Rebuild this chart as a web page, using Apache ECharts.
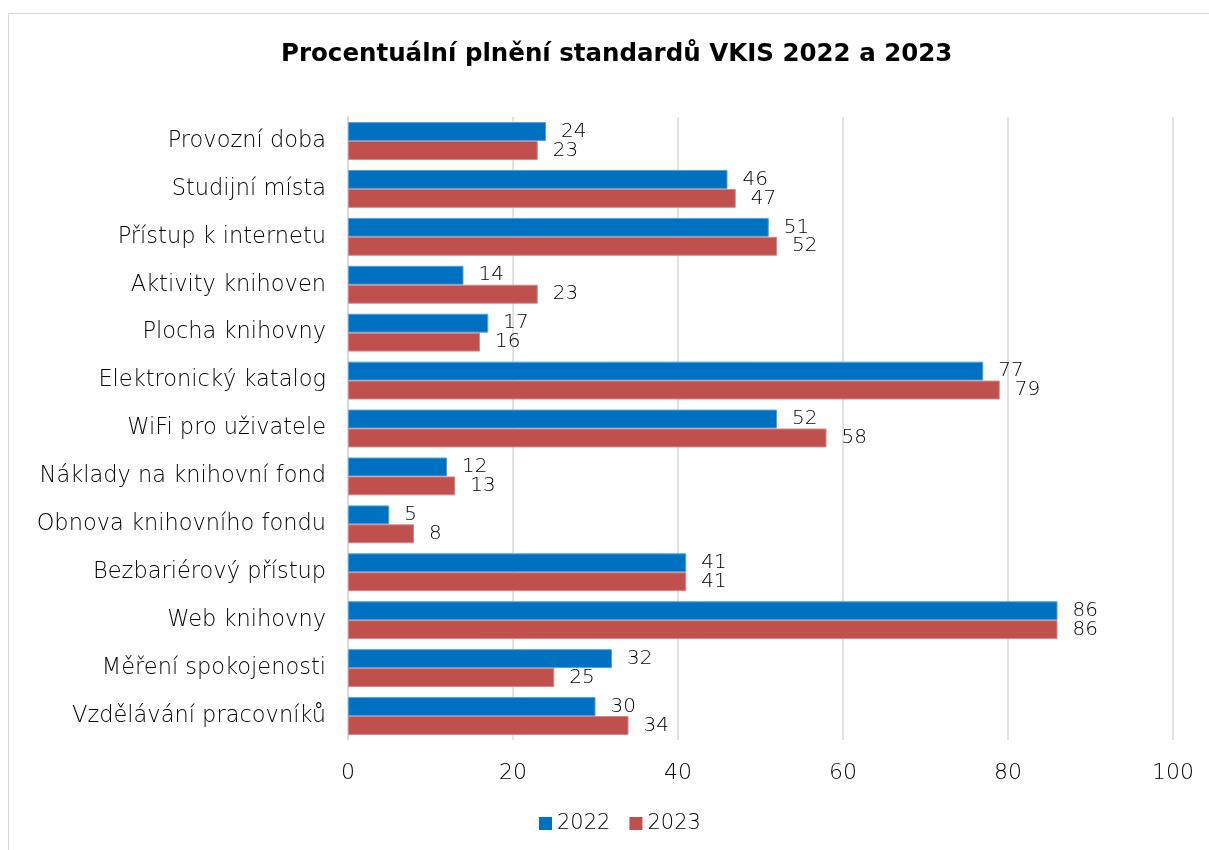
<!DOCTYPE html>
<html>
<head>
<meta charset="utf-8">
<script src="https://cdn.jsdelivr.net/npm/echarts@6/dist/echarts.min.js"></script>
<style>
  html, body { margin: 0; padding: 0; background: #fff; }
  #frame { position: absolute; left: 8px; top: 13px; width: 1220px; height: 860px; border: 1px solid #d9d9d9; }
  #chart { position: absolute; left: 0; top: 0; width: 1209px; height: 850px; }
</style>
</head>
<body>
<div id="frame"></div>
<div id="chart"></div>
<script>
const categories = ['Provozní doba', 'Studijní místa', 'Přístup k internetu', 'Aktivity knihoven', 'Plocha knihovny',
  'Elektronický katalog', 'WiFi pro uživatele', 'Náklady na knihovní fond', 'Obnova knihovního fondu',
  'Bezbariérový přístup', 'Web knihovny', 'Měření spokojenosti', 'Vzdělávání pracovníků']
const values2022 = [24, 46, 51, 14, 17, 77, 52, 12, 5, 41, 86, 32, 30]
const values2023 = [23, 47, 52, 23, 16, 79, 58, 13, 8, 41, 86, 25, 34]
const xTicks = [0, 20, 40, 60, 80, 100]

const font = 'DejaVu Sans'
const chart = echarts.init(document.getElementById('chart'))

const barSeries = (name, data, color, border) => ({
  name,
  type: 'bar',
  data,
  barGap: 0,
  barCategoryGap: '21%',
  itemStyle: { color, borderColor: border, borderWidth: 1 },
  label: {
    show: true,
    position: 'right',
    distance: 15,
    color: '#000',
    fontFamily: font,
    fontWeight: 200,
    fontSize: 20
  },
  animation: false
})

chart.setOption({
  title: {
    text: 'Procentuální plnění standardů VKIS 2022 a 2023',
    left: 276,
    top: 37,
    textStyle: { fontFamily: font, fontSize: 24.5, fontWeight: 'bold', color: '#000' }
  },
  legend: {
    top: 808,
    left: 534,
    itemWidth: 13,
    itemHeight: 13,
    itemGap: 19,
    icon: 'rect',
    itemStyle: { borderWidth: 0 },
    textStyle: { fontFamily: font, fontWeight: 200, fontSize: 21, color: '#000' },
    data: ['2022', '2023']
  },
  grid: { left: 348, right: 36, top: 117, bottom: 110 },
  xAxis: {
    type: 'value',
    min: xTicks[0],
    max: xTicks[xTicks.length - 1],
    interval: 20,
    axisLine: { show: false },
    axisTick: { show: false },
    splitLine: { lineStyle: { color: '#d9d9d9', width: 1.5 } },
    axisLabel: { fontFamily: font, fontWeight: 200, fontSize: 22, color: '#000', margin: 22 }
  },
  yAxis: {
    type: 'category',
    inverse: true,
    data: categories,
    axisLine: { show: true, lineStyle: { color: '#d9d9d9', width: 1.5 } },
    axisTick: { show: false },
    axisLabel: { fontFamily: font, fontWeight: 200, fontSize: 22.5, color: '#000', margin: 22 }
  },
  series: [
    barSeries('2022', values2022, '#0070C0', '#4fa3e0'),
    barSeries('2023', values2023, '#C0504D', '#d98583')
  ]
})

window.addEventListener('resize', () => chart.resize())
</script>
</body>
</html>
